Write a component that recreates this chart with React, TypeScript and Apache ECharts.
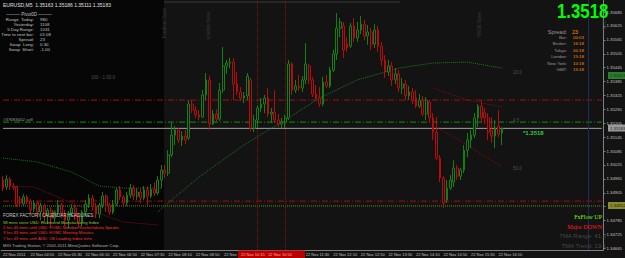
import React, { useEffect, useRef } from "react";
import * as echarts from "echarts";

// ---------- data ----------
// OHLC rows: [open, high, low, close], EURUSD M5, first bar 22 Nov 04:10
const ohlc: number[][] = [
  [1.34960, 1.34977, 1.34912, 1.34925],
  [1.34930, 1.34981, 1.34917, 1.34964],
  [1.34964, 1.34973, 1.34917, 1.34934],
  [1.34934, 1.34947, 1.34917, 1.34930],
  [1.34930, 1.34934, 1.34843, 1.34856],
  [1.34878, 1.34891, 1.34848, 1.34861],
  [1.34856, 1.34899, 1.34848, 1.34887],
  [1.34887, 1.34895, 1.34856, 1.34869],
  [1.34869, 1.34878, 1.34813, 1.34830],
  [1.34835, 1.34874, 1.34822, 1.34861],
  [1.34861, 1.34869, 1.34796, 1.34822],
  [1.34822, 1.34861, 1.34787, 1.34848],
  [1.34848, 1.34856, 1.34779, 1.34805],
  [1.34805, 1.34839, 1.34770, 1.34830],
  [1.34830, 1.34843, 1.34761, 1.34796],
  [1.34796, 1.34830, 1.34779, 1.34822],
  [1.34822, 1.34874, 1.34809, 1.34852],
  [1.34852, 1.34861, 1.34796, 1.34813],
  [1.34813, 1.34830, 1.34761, 1.34787],
  [1.34787, 1.34826, 1.34753, 1.34818],
  [1.34818, 1.34856, 1.34805, 1.34839],
  [1.34839, 1.34852, 1.34787, 1.34805],
  [1.34805, 1.34818, 1.34753, 1.34779],
  [1.34779, 1.34830, 1.34761, 1.34822],
  [1.34822, 1.34874, 1.34805, 1.34856],
  [1.34856, 1.34899, 1.34839, 1.34882],
  [1.34882, 1.34895, 1.34830, 1.34848],
  [1.34848, 1.34861, 1.34796, 1.34813],
  [1.34813, 1.34861, 1.34796, 1.34852],
  [1.34852, 1.34908, 1.34839, 1.34891],
  [1.34891, 1.34899, 1.34822, 1.34852],
  [1.34852, 1.34861, 1.34809, 1.34822],
  [1.34822, 1.34874, 1.34813, 1.34856],
  [1.34856, 1.34925, 1.34848, 1.34917],
  [1.34917, 1.34934, 1.34874, 1.34887],
  [1.34887, 1.34895, 1.34843, 1.34861],
  [1.34861, 1.34908, 1.34848, 1.34895],
  [1.34895, 1.34943, 1.34882, 1.34925],
  [1.34925, 1.34938, 1.34874, 1.34891],
  [1.34891, 1.34925, 1.34874, 1.34908],
  [1.34908, 1.34921, 1.34861, 1.34882],
  [1.34882, 1.34934, 1.34874, 1.34917],
  [1.34917, 1.34934, 1.34852, 1.34891],
  [1.34891, 1.34943, 1.34882, 1.34921],
  [1.34921, 1.34951, 1.34891, 1.34904],
  [1.34904, 1.34977, 1.34895, 1.34960],
  [1.34960, 1.35025, 1.34925, 1.35003],
  [1.35003, 1.35025, 1.34969, 1.34990],
  [1.34990, 1.35089, 1.34977, 1.35068],
  [1.35068, 1.35206, 1.35059, 1.35154],
  [1.35154, 1.35193, 1.35111, 1.35176],
  [1.35176, 1.35184, 1.35120, 1.35133],
  [1.35133, 1.35171, 1.35107, 1.35150],
  [1.35150, 1.35176, 1.35115, 1.35133],
  [1.35141, 1.35305, 1.35133, 1.35288],
  [1.35288, 1.35305, 1.35249, 1.35262],
  [1.35262, 1.35279, 1.35228, 1.35241],
  [1.35241, 1.35262, 1.35219, 1.35232],
  [1.35232, 1.35348, 1.35228, 1.35327],
  [1.35327, 1.35422, 1.35305, 1.35392],
  [1.35392, 1.35409, 1.35176, 1.35202],
  [1.35202, 1.35262, 1.35197, 1.35245],
  [1.35245, 1.35266, 1.35210, 1.35223],
  [1.35223, 1.35379, 1.35215, 1.35348],
  [1.35348, 1.35534, 1.35336, 1.35452],
  [1.35452, 1.35478, 1.35418, 1.35465],
  [1.35465, 1.35487, 1.35443, 1.35469],
  [1.35469, 1.35487, 1.35305, 1.35374],
  [1.35374, 1.35426, 1.35327, 1.35340],
  [1.35340, 1.35361, 1.35301, 1.35314],
  [1.35314, 1.35340, 1.35292, 1.35323],
  [1.35323, 1.35422, 1.35305, 1.35409],
  [1.35392, 1.35400, 1.35171, 1.35184],
  [1.35184, 1.35241, 1.35167, 1.35219],
  [1.35219, 1.35284, 1.35184, 1.35271],
  [1.35271, 1.35314, 1.35253, 1.35288],
  [1.35288, 1.35327, 1.35249, 1.35314],
  [1.35314, 1.35357, 1.35232, 1.35245],
  [1.35245, 1.35271, 1.35206, 1.35253],
  [1.35253, 1.35348, 1.35206, 1.35219],
  [1.35219, 1.35245, 1.35189, 1.35202],
  [1.35202, 1.35228, 1.35184, 1.35210],
  [1.35210, 1.35241, 1.35184, 1.35228],
  [1.35228, 1.35478, 1.35219, 1.35461],
  [1.35461, 1.35469, 1.35327, 1.35348],
  [1.35348, 1.35392, 1.35336, 1.35366],
  [1.35366, 1.35413, 1.35344, 1.35357],
  [1.35357, 1.35409, 1.35340, 1.35392],
  [1.35392, 1.35551, 1.35374, 1.35461],
  [1.35452, 1.35461, 1.35374, 1.35392],
  [1.35392, 1.35405, 1.35318, 1.35331],
  [1.35331, 1.35370, 1.35305, 1.35314],
  [1.35314, 1.35361, 1.35275, 1.35288],
  [1.35288, 1.35405, 1.35279, 1.35383],
  [1.35383, 1.35413, 1.35357, 1.35366],
  [1.35366, 1.35448, 1.35357, 1.35435],
  [1.35435, 1.35521, 1.35426, 1.35504],
  [1.35504, 1.35681, 1.35478, 1.35616],
  [1.35616, 1.35659, 1.35577, 1.35642],
  [1.35625, 1.35642, 1.35487, 1.35521],
  [1.35547, 1.35577, 1.35513, 1.35530],
  [1.35538, 1.35638, 1.35530, 1.35625],
  [1.35625, 1.35659, 1.35556, 1.35573],
  [1.35573, 1.35642, 1.35556, 1.35607],
  [1.35607, 1.35668, 1.35590, 1.35633],
  [1.35633, 1.35651, 1.35564, 1.35582],
  [1.35582, 1.35629, 1.35543, 1.35599],
  [1.35599, 1.35616, 1.35521, 1.35547],
  [1.35547, 1.35633, 1.35530, 1.35607],
  [1.35607, 1.35625, 1.35513, 1.35538],
  [1.35538, 1.35556, 1.35452, 1.35478],
  [1.35478, 1.35499, 1.35400, 1.35426],
  [1.35426, 1.35478, 1.35409, 1.35452],
  [1.35452, 1.35469, 1.35366, 1.35392],
  [1.35392, 1.35443, 1.35374, 1.35418],
  [1.35418, 1.35435, 1.35340, 1.35357],
  [1.35357, 1.35400, 1.35331, 1.35374],
  [1.35374, 1.35392, 1.35305, 1.35323],
  [1.35323, 1.35366, 1.35305, 1.35340],
  [1.35340, 1.35357, 1.35288, 1.35305],
  [1.35314, 1.35348, 1.35271, 1.35279],
  [1.35279, 1.35331, 1.35271, 1.35305],
  [1.35305, 1.35323, 1.35236, 1.35245],
  [1.35245, 1.35318, 1.35219, 1.35305],
  [1.35297, 1.35305, 1.35206, 1.35228],
  [1.35228, 1.35249, 1.35133, 1.35167],
  [1.35167, 1.35232, 1.35046, 1.35055],
  [1.35055, 1.35068, 1.34951, 1.34969],
  [1.34969, 1.34977, 1.34839, 1.34861],
  [1.34874, 1.34960, 1.34861, 1.34925],
  [1.34925, 1.34981, 1.34917, 1.34960],
  [1.34951, 1.35046, 1.34930, 1.35012],
  [1.35012, 1.35025, 1.34960, 1.34977],
  [1.34977, 1.35012, 1.34960, 1.35003],
  [1.35003, 1.35111, 1.34990, 1.35089],
  [1.35089, 1.35163, 1.35059, 1.35133],
  [1.35133, 1.35176, 1.35098, 1.35154],
  [1.35154, 1.35249, 1.35141, 1.35228],
  [1.35228, 1.35288, 1.35189, 1.35279],
  [1.35279, 1.35305, 1.35206, 1.35228],
  [1.35253, 1.35271, 1.35202, 1.35228],
  [1.35228, 1.35249, 1.35133, 1.35167],
  [1.35176, 1.35232, 1.35120, 1.35150],
  [1.35150, 1.35219, 1.35098, 1.35184],
  [1.35193, 1.35262, 1.35145, 1.35159],
  [1.35163, 1.35186, 1.35111, 1.35183],
];

// moving averages / bands: [bar index, price]
const maSlowGreen: number[][] = [[0, 1.35055], [10, 1.35038], [20, 1.34994], [28, 1.34934], [35, 1.34925], [46, 1.34925]];
const maFastGreen: number[][] = [[45, 1.34822], [50, 1.34887], [57, 1.34973], [70, 1.35111], [82, 1.35219], [92, 1.35314], [103, 1.35392], [115, 1.35443], [125, 1.35465], [135, 1.35469], [145, 1.35443]];
const bandRedA: number[][] = [[3, 1.34934], [9, 1.34930], [25, 1.34830], [35, 1.34779], [45, 1.34766]];
const bandRedB: number[][] = [[125, 1.35357], [135, 1.35305], [145, 1.35275]];
const bandRedC: number[][] = [[126, 1.35189], [134, 1.35120], [145, 1.35016]];

// horizontal level lines
const levelRedTop = 1.35305;
const levelGreenSell = 1.35210;
const bidPrice = 1.35183;
const levelRedLow = 1.34869;
const levelGreenLow = 1.34848;

// vertical event lines (bar index)
const newsLines = [74, 82];
const shiftLine = 170;

// axes
const yTickValues = [1.34665, 1.34725, 1.34785, 1.34845, 1.34905, 1.34965, 1.35025, 1.35085, 1.35145, 1.35205, 1.35265, 1.35325, 1.35385, 1.35445, 1.35505, 1.35565, 1.35625, 1.35685];
const yHiddenLabels = [1.34845];
const totalSlots = 175;
const startMinutes = 4 * 60 + 10;
const labelEvery = 8;
const lastLabelIndex = 144;
const hiddenLabelIdx = [64, 72, 80];

const headerText = "EURUSD,M5  1.35163 1.35186 1.35111 1.35183";
const pivotLabels = ["Range  Today:", "Yesterday:", "5 Day Range:", "Time to next bar:", "Spread:", "Swap  Long:", "Swap  Short:"];
const pivotValues = ["980", "1108", "1031", "01:08", "23", "0.30", "-1.00"];
const clockLabels = ["Bar:", "Broker:", "Tokyo:", "London:", "New York:", "GMT:"];
const clockValues = ["00:03", "16:18", "00:18", "15:18", "10:18", "15:18"];
const newsLinesText = [
  { t: "58 mins since USD: Richmond Manufacturing Index", c: "#9acd32" },
  { t: "2 hrs 43 mins until USD: FOMC Member Kocherlakota Speaks", c: "#ff3030" },
  { t: "3 hrs 43 mins until USD: FOMC Meeting Minutes", c: "#ff3030" },
  { t: "7 hrs 43 mins until AUD: CB Leading Index m/m", c: "#ff3030" },
];
const verticalNotes = [
  { x: 164, y: 8, t: "Frankfurt Open" },
  { x: 208, y: 12, t: "London Open" },
  { x: 479, y: 12, t: "NYSE Open" },
  { x: 604, y: 20, t: "ECB" },
];

const pad = (n: number) => (n < 10 ? "0" + n : "" + n);
const categories: string[] = [];
for (let i = 0; i < totalSlots; i++) {
  const m = startMinutes + i * 5;
  categories.push("22 Nov " + pad(Math.floor(m / 60) % 24) + ":" + pad(m % 60));
}

const FONT = "'Liberation Sans', Arial, sans-serif";

export default function App() {
  const ref = useRef<HTMLDivElement>(null);
  useEffect(() => {
    if (!ref.current) return;
    const chart = echarts.init(ref.current, undefined, { renderer: "svg" });
    const candleData = ohlc.map((r) => [r[0], r[3], r[2], r[1]]);
    const dashDot = [6, 2, 1, 2];

    const txt = (x: number, y: number, text: string, fill: string, size: number, align = "left", extra: any = {}) => ({
      type: "text",
      x,
      y,
      silent: true,
      style: { text, fill, font: `${size}px ${FONT}`, textAlign: align, textVerticalAlign: "middle", ...extra },
      z: 100,
    });

    const graphics: any[] = [
      // session shading
      { type: "rect", shape: { x: 0, y: 0, width: 164, height: 250 }, style: { fill: "#060606" }, z: 0, silent: true },
      { type: "line", shape: { x1: 164, y1: 2, x2: 400, y2: 2 }, style: { stroke: "#3a3a3a", lineWidth: 1 }, z: 1, silent: true },
      ...verticalNotes.map((n) => ({
        type: "text", x: n.x, y: n.y, rotation: Math.PI / 2, z: 1, silent: true,
        style: { text: n.t, fill: "#3c3c3c", font: `4.5px ${FONT}`, textAlign: "right", textVerticalAlign: "middle" },
      })),
      txt(3, 5, headerText, "#e0e0e0", 5),
      txt(29, 14.5, "——— Pivot0D ———", "#c0c0c0", 4.5, "center"),
      ...pivotLabels.map((l, i) => txt(34, 19.5 + i * 5, l, "#c0c0c0", 4.4, "right")),
      ...pivotValues.map((v, i) => txt(40, 19.5 + i * 5, v, "#c0c0c0", 4.4)),
      // big price
      {
        type: "text", x: 557, y: 11, z: 100, silent: true, scaleX: 0.84,
        style: { text: "1.3518", fill: "#00ff00", font: `bold 20px ${FONT}`, textAlign: "left", textVerticalAlign: "middle" },
      },
      txt(567, 32, "Spread:", "#9a9a9a", 5.5, "right"),
      txt(572, 32, "23", "#ff8c00", 5.5),
      ...clockLabels.map((l, i) => txt(567, 37.5 + i * 6.4, l, "#9a9a9a", 4.4, "right")),
      ...clockValues.map((v, i) => txt(573, 37.5 + i * 6.4, v, "#ff8c00", 4.4)),
      // news
      txt(3, 215, "FOREX FACTORY CALENDAR HEADLINES:", "#c8c8c8", 4.5),
      ...newsLinesText.map((n, i) => txt(3, 222.5 + i * 5.2, n.t, n.c, 4.2)),
      txt(3, 245.5, "MIG Trading Station, © 2001-2011 MetaQuotes Software Corp.", "#b0b0b0", 4.2),
      // right bottom
      { type: "text", x: 602, y: 217, z: 100, style: { text: "FxFlow UP", fill: "#7cfc00", font: `6px 'Liberation Serif', serif`, textAlign: "right", textVerticalAlign: "middle" } },
      { type: "text", x: 602, y: 226.5, z: 100, style: { text: "Major DOWN", fill: "#ff1a1a", font: `6px 'Liberation Serif', serif`, textAlign: "right", textVerticalAlign: "middle" } },
      txt(606, 236, "TMA Range: 41.2", "#484848", 6, "right"),
      txt(606, 245.5, "TMA Trend: 19.1", "#484848", 6, "right"),
      // labels on chart
      txt(3, 119, "#37683002 sell", "#9a9a9a", 4.4),
      txt(91, 77, "100 - 1 00.0", "#505050", 4.5),
      txt(513, 72, "20.0", "#505050", 4.5),
      txt(513, 120, "4.5", "#505050", 4.5),
      txt(513, 168, "50.0", "#505050", 4.5),
      txt(523, 133, "*1.3518", "#2ecc40", 6, "left", { font: `bold 6px ${FONT}` }),
      // axis price boxes
      { type: "rect", shape: { x: 608, y: 72, width: 17, height: 7 }, style: { fill: "#2e7d2e" }, z: 90 },
      txt(610, 75.5, "1.35413", "#103010", 4.3),
      { type: "rect", shape: { x: 608, y: 124.5, width: 17, height: 7 }, style: { fill: "#9a9a9a" }, z: 90 },
      txt(610, 128, "1.35183", "#202020", 4.3),
      { type: "rect", shape: { x: 608, y: 202, width: 17, height: 7 }, style: { fill: "#8a8a2a" }, z: 90 },
      txt(610, 205.5, "1.34852", "#202020", 4.3),
      // time axis: partly covered label and news box
      txt(224, 254.2, "22 Nov", "#c0c0c0", 4),
      { type: "rect", shape: { x: 238, y: 250.5, width: 67, height: 7.5 }, style: { fill: "#b80000" }, z: 90 },
      txt(241, 254.2, "22 Nov 10:15   22 Nov 10:50", "#ffb0b0", 4),
    ];

    const lineSeries = (data: number[][], color: string, type: any = "dotted") => ({
      type: "line",
      data,
      symbol: "none",
      silent: true,
      lineStyle: { color, width: 1, type },
      z: 3,
    });
    const hLine = (v: number, color: string, type: any) => ({
      type: "line",
      data: [[0, v], [totalSlots - 1, v]],
      symbol: "none",
      silent: true,
      lineStyle: { color, width: 1, type },
      z: 2,
    });

    chart.setOption({
      animation: false,
      backgroundColor: "#131313",
      grid: { left: 0, right: 17, top: 0, bottom: 8, containLabel: false },
      xAxis: {
        type: "category",
        data: categories,
        boundaryGap: true,
        axisLine: { show: true, lineStyle: { color: "#808080", width: 1 } },
        axisTick: { show: false },
        splitLine: { show: false },
        axisLabel: {
          interval: (i: number) => i % labelEvery === 0 && i <= lastLabelIndex && hiddenLabelIdx.indexOf(i) < 0,
          formatter: (v: string, i: number) => (i === 0 ? "22 Nov 2011" : v),
          color: "#c0c0c0",
          fontSize: 4,
          fontFamily: FONT,
          align: "left",
          margin: 2,
        },
      },
      yAxis: {
        type: "value",
        position: "right",
        min: 1.34658,
        max: 1.35737,
        axisLine: { show: true, lineStyle: { color: "#808080" } },
        axisTick: { show: true, customValues: yTickValues, length: 2, lineStyle: { color: "#808080" } },
        splitLine: { show: false },
        axisLabel: {
          customValues: yTickValues.filter((v) => yHiddenLabels.indexOf(v) < 0),
          formatter: (v: number) => v.toFixed(5),
          color: "#c0c0c0",
          fontSize: 4.3,
          fontFamily: FONT,
          margin: 3,
        },
      },
      graphic: graphics,
      series: [
        {
          type: "candlestick",
          data: candleData,
          barWidth: 2.2,
          itemStyle: {
            color: "#0c0c0c",
            color0: "#0c0c0c",
            borderColor: "#128012",
            borderColor0: "#b80c0c",
            borderWidth: 1,
          },
          z: 5,
          markLine: {
            silent: true,
            symbol: "none",
            label: { show: false },
            data: [
              ...newsLines.map((x) => ({ xAxis: x, lineStyle: { color: "#8a1010", type: "dotted", width: 1 } })),
              { xAxis: shiftLine, lineStyle: { color: "#1c2c5a", type: "solid", width: 1 } },
            ],
          },
        },
        hLine(levelRedTop, "#a01010", dashDot),
        hLine(levelGreenSell, "#109010", dashDot),
        hLine(bidPrice, "#a0a0a0", "solid"),
        hLine(levelRedLow, "#a01010", dashDot),
        hLine(levelGreenLow, "#6a8a20", "dotted"),
        lineSeries(maSlowGreen, "#1e6e1e"),
        lineSeries(maFastGreen, "#1e7a1e"),
        lineSeries(bandRedA, "#7a1010"),
        lineSeries(bandRedB, "#7a1010"),
        lineSeries(bandRedC, "#7a1010"),
      ],
    });
    return () => chart.dispose();
  }, []);
  return <div ref={ref} style={{ width: 625, height: 258, position: "absolute", left: 0, top: 0 }} />;
}
